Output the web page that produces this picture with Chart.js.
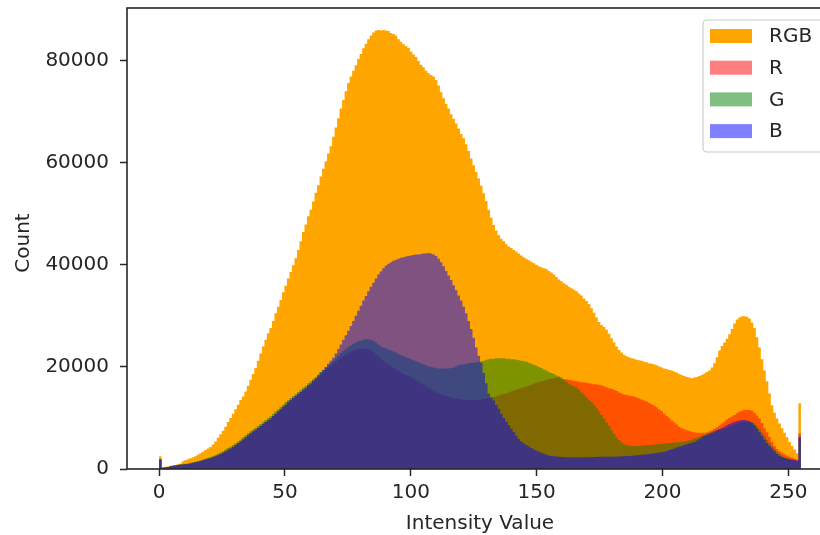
<!DOCTYPE html>
<html>
<head>
<meta charset="utf-8">
<script src="https://cdn.jsdelivr.net/npm/chart.js@4.4.1/dist/chart.umd.min.js"></script>
<style>
  html, body { margin: 0; padding: 0; background: #fff; overflow: hidden; }
  #hist { display: block; }
</style>
</head>
<body>
<canvas id="hist" width="840" height="535"></canvas>
<script>
// 256 intensity bins spread over 0..255
const bins = Array.from({ length: 256 }, (_, i) => i);
const binWidth = 255 / 256;

const rgbCounts = [
  2500, 350, 420, 500, 600, 700, 800, 950, 1100, 1500, 1700, 1900, 2100, 2300, 2500, 2800,
  3100, 3400, 3700, 4000, 4300, 4800, 5400, 6100, 6800, 7500, 8300, 9200, 10000, 10800, 11700, 12600,
  13500, 14200, 15200, 16300, 17500, 18600, 19800, 21200, 22600, 24000, 25300, 26600, 27600, 29000, 30500, 31800,
  33100, 34600, 35900, 37300, 38600, 39900, 41300, 42900, 44600, 46400, 47900, 49500, 50800, 52400, 54100, 55600,
  57300, 58800, 60300, 61800, 63200, 65100, 66900, 68700, 70600, 72300, 74000, 75600, 76900, 78000, 79100, 80300,
  81300, 82400, 83300, 84200, 84900, 85500, 85900, 86000, 85900, 86000, 85900, 85800, 85400, 85200, 84900, 84200,
  83700, 83200, 82800, 82500, 81800, 81200, 80700, 79900, 79200, 78700, 78000, 77500, 77200, 76900, 76200, 75100,
  73800, 72600, 71500, 70600, 69500, 68600, 67700, 66700, 65600, 64800, 63600, 62300, 60800, 59500, 58200, 56900,
  55500, 54000, 52500, 50800, 49200, 47800, 46700, 45800, 45100, 44600, 44000, 43600, 43300, 42900, 42600, 42200,
  41800, 41500, 41200, 40900, 40600, 40300, 40000, 39700, 39500, 39300, 39200, 38800, 38500, 38100, 37600, 37100,
  36800, 36400, 36100, 35700, 35400, 35100, 34800, 34400, 34000, 33400, 32900, 32300, 31500, 30600, 29700, 28800,
  28200, 27800, 27300, 26500, 25600, 24800, 24000, 23300, 22800, 22400, 22100, 21900, 21700, 21600, 21400, 21300,
  21200, 21000, 20900, 20700, 20600, 20500, 20300, 20100, 19900, 19700, 19600, 19400, 19300, 19100, 18900, 18600,
  18400, 18200, 18000, 17900, 17800, 17900, 18000, 18200, 18400, 18700, 19000, 19300, 19900, 20700, 21900, 23200,
  24100, 24800, 25500, 26400, 27400, 28500, 29300, 29700, 29900, 29900, 29800, 29500, 28700, 27600, 25800, 23800,
  21500, 19300, 17200, 14800, 12500, 11000, 9900, 8900, 8000, 7100, 6200, 5300, 4500, 3800, 3100, 12900
];

const redCounts = [
  1900, 240, 310, 390, 540, 660, 720, 790, 860, 910, 960, 1010, 1090, 1190, 1310, 1420,
  1560, 1690, 1840, 1990, 2120, 2290, 2480, 2720, 2940, 3180, 3460, 3760, 4010, 4330, 4680, 5060,
  5380, 5790, 6180, 6610, 6990, 7330, 7710, 8040, 8390, 8780, 9190, 9560, 9890, 10380, 10790, 11270,
  11680, 12190, 12580, 13070, 13480, 13870, 14260, 14650, 15040, 15430, 15820, 16250, 16600, 17200, 17600, 18000,
  18500, 18900, 19400, 19800, 20200, 20600, 21000, 21400, 21800, 22100, 22400, 22700, 23000, 23200, 23400, 23500,
  23600, 23600, 23600, 23400, 23200, 22900, 22500, 22100, 21600, 21200, 20800, 20500, 20200, 19800, 19500, 19200,
  18900, 18600, 18400, 18200, 18000, 17700, 17400, 17100, 16800, 16500, 16200, 15900, 15600, 15300, 15000, 14800,
  14600, 14400, 14300, 14200, 14000, 13900, 13800, 13700, 13600, 13500, 13500, 13500, 13500, 13500, 13500, 13500,
  13600, 13700, 13800, 13900, 14000, 14100, 14200, 14400, 14600, 14700, 14800, 15000, 15200, 15400, 15500, 15700,
  15800, 16000, 16100, 16300, 16500, 16700, 16900, 17100, 17200, 17300, 17500, 17600, 17700, 17800, 17900, 18000,
  17700, 17600, 17600, 17500, 17400, 17300, 17200, 17100, 17000, 17000, 16900, 16800, 16700, 16600, 16600, 16500,
  16400, 16200, 16000, 15800, 15700, 15500, 15300, 15000, 14800, 14600, 14500, 14400, 14300, 14200, 14000, 13800,
  13600, 13400, 13200, 13000, 12700, 12400, 12100, 11700, 11300, 10800, 10400, 10000, 9500, 9100, 8700, 8300,
  8000, 7800, 7600, 7500, 7300, 7200, 7100, 7100, 7100, 7100, 7200, 7400, 7600, 7900, 8200, 8500,
  8900, 9300, 9700, 10000, 10300, 10600, 10900, 11200, 11400, 11600, 11600, 11600, 11400, 11000, 10500, 9900,
  9000, 8000, 7200, 6300, 5300, 4500, 3900, 3500, 3200, 2900, 2600, 2400, 2200, 2000, 1800, 7000
];

const greenCounts = [
  1900, 250, 300, 400, 550, 650, 750, 850, 900, 950, 1000, 1100, 1200, 1300, 1400, 1550,
  1700, 1850, 2000, 2200, 2350, 2550, 2750, 3000, 3250, 3500, 3800, 4100, 4350, 4700, 5050, 5400,
  5800, 6200, 6600, 7000, 7400, 7750, 8100, 8450, 8800, 9200, 9600, 10000, 10350, 10800, 11300, 11700,
  12200, 12600, 13100, 13500, 13900, 14300, 14700, 15100, 15500, 15900, 16300, 16800, 17200, 17600, 18000, 18500,
  19000, 19400, 19900, 20300, 20800, 21200, 21700, 22200, 22700, 23100, 23500, 23900, 24200, 24500, 24800, 25000,
  25100, 25300, 25400, 25400, 25300, 25100, 24800, 24400, 24000, 23800, 23600, 23400, 23200, 23000, 22800, 22500,
  22300, 22100, 21900, 21700, 21500, 21300, 21100, 20900, 20700, 20500, 20300, 20100, 20000, 19900, 19800, 19700,
  19700, 19700, 19700, 19700, 19800, 19900, 20100, 20300, 20400, 20500, 20600, 20700, 20800, 20800, 20900, 21000,
  21100, 21200, 21400, 21500, 21600, 21600, 21700, 21700, 21700, 21700, 21600, 21600, 21500, 21500, 21400, 21300,
  21200, 21100, 21000, 20800, 20600, 20400, 20200, 20000, 19800, 19500, 19300, 19000, 18800, 18600, 18300, 18100,
  17900, 17500, 17100, 16700, 16400, 16200, 16000, 15500, 15000, 14600, 14100, 13600, 13100, 12600, 12000, 11300,
  10600, 9900, 9100, 8400, 7600, 6900, 6200, 5700, 5200, 4900, 4700, 4600, 4500, 4500, 4500, 4500,
  4600, 4600, 4700, 4700, 4700, 4800, 4800, 4900, 4900, 5000, 5000, 5100, 5100, 5200, 5200, 5300,
  5350, 5400, 5500, 5600, 5800, 5950, 6100, 6300, 6500, 6700, 6900, 7000, 7150, 7300, 7450, 7600,
  7750, 7900, 8100, 8300, 8500, 8700, 8900, 9100, 9200, 9300, 9300, 9300, 9200, 8900, 8400, 7800,
  7100, 6400, 5700, 5000, 4400, 3800, 3300, 2900, 2600, 2300, 2100, 1900, 1800, 1600, 1400, 6000
];

const blueCounts = [
  1900, 250, 300, 400, 550, 650, 700, 800, 850, 900, 950, 1000, 1100, 1200, 1300, 1400,
  1550, 1700, 1850, 2000, 2100, 2300, 2500, 2700, 2950, 3200, 3450, 3750, 4000, 4350, 4700, 5050,
  5400, 5800, 6200, 6600, 7000, 7350, 7700, 8050, 8400, 8800, 9200, 9550, 9900, 10400, 10800, 11300,
  11700, 12200, 12600, 13100, 13500, 13900, 14300, 14700, 15100, 15500, 15900, 16400, 16800, 17300, 17800, 18300,
  18900, 19400, 20000, 20600, 21200, 21800, 22600, 23500, 24400, 25300, 26200, 27100, 28000, 29000, 30000, 31000,
  32000, 33000, 33900, 34800, 35700, 36500, 37300, 38100, 38700, 39300, 39800, 40200, 40500, 40800, 41000, 41200,
  41400, 41500, 41600, 41700, 41800, 41900, 42000, 42000, 42100, 42200, 42200, 42300, 42200, 42000, 41700, 41200,
  40500, 39700, 38800, 37900, 37000, 36000, 35000, 34000, 33000, 31800, 30500, 29000, 27400, 25700, 23800, 22200,
  20800, 18800, 16800, 14800, 14000, 13400, 12600, 11800, 10800, 10000, 9300, 8600, 7900, 7200, 6500, 5900,
  5400, 5000, 4700, 4400, 4100, 3800, 3600, 3400, 3200, 3000, 2800, 2650, 2550, 2500, 2450, 2400,
  2350, 2350, 2300, 2300, 2300, 2300, 2300, 2300, 2300, 2300, 2300, 2300, 2350, 2350, 2350, 2400,
  2400, 2400, 2400, 2400, 2400, 2400, 2450, 2450, 2500, 2500, 2550, 2550, 2600, 2650, 2700, 2750,
  2800, 2850, 2900, 2950, 3000, 3100, 3150, 3250, 3300, 3400, 3550, 3700, 3850, 4000, 4200, 4350,
  4500, 4700, 4850, 5000, 5150, 5300, 5600, 5900, 6200, 6450, 6650, 6900, 7150, 7400, 7650, 7850,
  8050, 8300, 8550, 8800, 9050, 9250, 9400, 9500, 9600, 9600, 9500, 9300, 9000, 8500, 7900, 7200,
  6500, 5800, 5100, 4500, 4000, 3500, 2950, 2600, 2350, 2150, 2000, 1900, 1850, 1800, 1700, 6300
];

const xTicks = [0, 50, 100, 150, 200, 250];
const yTicks = [0, 20000, 40000, 60000, 80000];

const FONT = "'DejaVu Sans', sans-serif";
const INK = '#262626';

// each bin becomes a flat step from its left edge to its right edge
function histPoints(counts) {
  return bins.flatMap((b, i) => [
    { x: b * binWidth, y: counts[i] },
    { x: (b + 1) * binWidth, y: counts[i] }
  ]);
}

function histSet(label, counts, color, order) {
  return {
    label: label,
    data: histPoints(counts),
    backgroundColor: color,
    borderColor: 'transparent',
    borderWidth: 0,
    pointRadius: 0,
    fill: 'origin',
    tension: 0,
    order: order
  };
}

// matplotlib style frame on top of the bars, plus the y axis title
const framePlugin = {
  id: 'frame',
  afterDatasetsDraw(chart) {
    const a = chart.chartArea;
    const ctx = chart.ctx;
    ctx.save();
    ctx.strokeStyle = INK;
    ctx.lineWidth = 1.6;
    ctx.strokeRect(a.left, a.top, a.right - a.left, a.bottom - a.top);
    ctx.translate(24, 243);
    ctx.rotate(-Math.PI / 2);
    ctx.font = '20px ' + FONT;
    ctx.fillStyle = INK;
    ctx.textAlign = 'center';
    ctx.textBaseline = 'middle';
    ctx.fillText('Count', 0, 0);
    ctx.restore();
  }
};

// legend box in the upper right corner, inside the axes
const legendPlugin = {
  id: 'cornerLegend',
  afterDraw(chart) {
    const ctx = chart.ctx;
    const x0 = 703, y0 = 20, w = 123, h = 132;
    ctx.save();
    ctx.beginPath();
    ctx.roundRect(x0, y0, w, h, 4);
    ctx.fillStyle = 'rgba(255,255,255,0.8)';
    ctx.fill();
    ctx.strokeStyle = '#cccccc';
    ctx.lineWidth = 1.2;
    ctx.stroke();
    ctx.font = '20px ' + FONT;
    ctx.textBaseline = 'middle';
    chart.data.datasets.forEach((ds, i) => {
      const cy = 36 + i * 31.7;
      ctx.fillStyle = ds.backgroundColor;
      ctx.fillRect(710, cy - 7, 42, 14);
      ctx.fillStyle = INK;
      ctx.fillText(ds.label, 769, cy + 1);
    });
    ctx.restore();
  }
};

new Chart(document.getElementById('hist'), {
  type: 'line',
  data: {
    datasets: [
      histSet('RGB', rgbCounts, 'rgb(255,165,0)', 4),
      histSet('R', redCounts, 'rgba(255,0,0,0.5)', 3),
      histSet('G', greenCounts, 'rgba(0,128,0,0.5)', 2),
      histSet('B', blueCounts, 'rgba(0,0,255,0.5)', 1)
    ]
  },
  options: {
    responsive: false,
    animation: false,
    devicePixelRatio: 1,
    layout: { padding: { top: 8, right: 7, left: 0, bottom: 0 } },
    plugins: { legend: { display: false }, tooltip: { enabled: false } },
    scales: {
      x: {
        type: 'linear',
        min: -12.75,
        max: 267.75,
        afterBuildTicks: s => { s.ticks = xTicks.map(v => ({ value: v })); },
        afterFit: s => { s.height = 66; s.paddingLeft = 0; s.paddingRight = 0; },
        border: { display: false },
        grid: { drawOnChartArea: false, drawTicks: true, tickLength: 7, tickWidth: 1.5, tickColor: INK },
        ticks: { color: INK, font: { family: FONT, size: 20 }, padding: 5, maxRotation: 0 },
        title: { display: true, text: 'Intensity Value', color: INK, font: { family: FONT, size: 20 }, padding: { top: 0, bottom: -1 } }
      },
      y: {
        min: 0,
        max: 90300,
        afterBuildTicks: s => { s.ticks = yTicks.map(v => ({ value: v })); },
        afterFit: s => { s.width = 127; s.paddingTop = 0; s.paddingBottom = 0; },
        border: { display: false },
        grid: { drawOnChartArea: false, drawTicks: true, tickLength: 7, tickWidth: 1.5, tickColor: INK },
        ticks: { color: INK, font: { family: FONT, size: 20 }, padding: 11, callback: v => String(v) }
      }
    }
  },
  plugins: [framePlugin, legendPlugin]
});
</script>
</body>
</html>
